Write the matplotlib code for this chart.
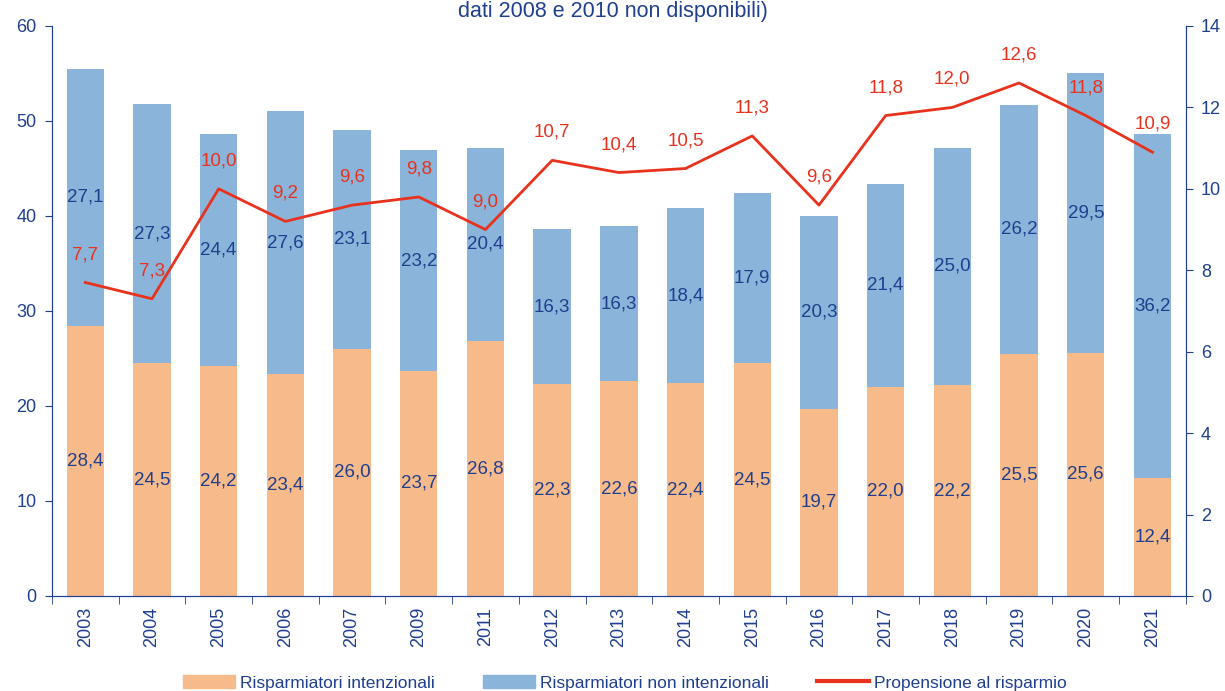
import numpy as np
import matplotlib
matplotlib.use('Agg')
import matplotlib.pyplot as plt
from matplotlib.patches import Patch
from matplotlib.lines import Line2D

# dati
anni = ['2003', '2004', '2005', '2006', '2007', '2009', '2011', '2012', '2013',
        '2014', '2015', '2016', '2017', '2018', '2019', '2020', '2021']
intenzionali = [28.4, 24.5, 24.2, 23.4, 26.0, 23.7, 26.8, 22.3, 22.6,
                22.4, 24.5, 19.7, 22.0, 22.2, 25.5, 25.6, 12.4]
non_intenzionali = [27.1, 27.3, 24.4, 27.6, 23.1, 23.2, 20.4, 16.3, 16.3,
                    18.4, 17.9, 20.3, 21.4, 25.0, 26.2, 29.5, 36.2]
propensione = [7.7, 7.3, 10.0, 9.2, 9.6, 9.8, 9.0, 10.7, 10.4,
               10.5, 11.3, 9.6, 11.8, 12.0, 12.6, 11.8, 10.9]

blu = '#1F3F8F'
arancio = '#F7BA8A'
azzurro = '#8AB4D9'
rosso = '#E8321E'

plt.rcParams['font.family'] = ['Liberation Sans', 'DejaVu Sans']

fig = plt.figure(figsize=(12.25, 6.91), dpi=100)
ax = fig.add_axes([0.0424, 0.1375, 0.9256, 0.8249])
x = np.arange(len(anni))

ax.bar(x, intenzionali, width=0.56, color=arancio)
ax.bar(x, non_intenzionali, width=0.56, bottom=intenzionali, color=azzurro)

for i in range(len(anni)):
    ax.text(x[i], intenzionali[i] / 2, f'{intenzionali[i]:.1f}'.replace('.', ','),
            ha='center', va='center', fontsize=13.5, color=blu)
    ax.text(x[i], intenzionali[i] + non_intenzionali[i] / 2,
            f'{non_intenzionali[i]:.1f}'.replace('.', ','),
            ha='center', va='center', fontsize=13.5, color=blu)

ax.set_ylim(0, 60)
ax.set_yticks(range(0, 61, 10))
ax.set_xlim(-0.5, len(anni) - 0.5)
ax.set_xticks(x)
ax.set_xticklabels(anni, rotation=90)
ax.set_xticks(np.arange(-0.5, len(anni), 1), minor=True)
ax.tick_params(axis='x', which='major', length=0, pad=8, labelsize=13, labelcolor=blu)
ax.tick_params(axis='x', which='minor', length=6, color=blu)
ax.tick_params(axis='y', length=5, color=blu, labelsize=13, labelcolor=blu, pad=6)

ax2 = ax.twinx()
ax2.plot(x, propensione, color=rosso, lw=2)
for i in range(len(anni)):
    ax2.annotate(f'{propensione[i]:.1f}'.replace('.', ','), (x[i], propensione[i]),
                 xytext=(0, 14), textcoords='offset points', ha='center', va='bottom',
                 fontsize=13.5, color=rosso)
ax2.set_ylim(0, 14)
ax2.set_yticks(range(0, 15, 2))
ax2.tick_params(axis='y', length=5, color=blu, labelsize=13, labelcolor=blu, pad=6)

for a in (ax, ax2):
    a.spines['top'].set_visible(False)
    for s in ('left', 'right', 'bottom'):
        a.spines[s].set_color(blu)

fig.text(0.5, 0.999, 'dati 2008 e 2010 non disponibili)', ha='center', va='top',
         fontsize=15.5, color=blu)

handles = [Patch(color=arancio), Patch(color=azzurro), Line2D([], [], color=rosso, lw=3)]
labels = ['Risparmiatori intenzionali', 'Risparmiatori non intenzionali', 'Propensione al risparmio']
fig.legend(handles, labels, loc='center', bbox_to_anchor=(0.51, 0.012), ncol=3, frameon=False,
           fontsize=12.5, labelcolor=blu, handlelength=3.0, handleheight=0.8,
           columnspacing=2.75, handletextpad=0.3)

fig.savefig('out.png', dpi=100)
